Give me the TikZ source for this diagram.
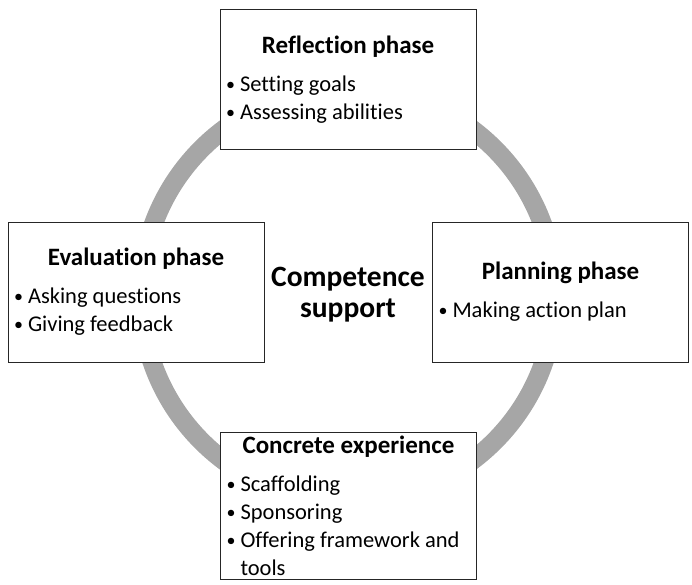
\documentclass[tikz,border=0pt]{standalone}
\usepackage{fontspec}
\setmainfont[Ligatures=NoCommon]{Carlito}
\usetikzlibrary{positioning}

\newcommand{\phasetitle}[1]{{\centering\fontsize{25}{28}\selectfont\bfseries #1\par}\vspace{10pt}}
\newcommand{\bul}[1]{\hangindent=14pt\hangafter=1\noindent
  \makebox[14pt][l]{\raisebox{1.3pt}{\fontsize{18}{18}\selectfont\textbullet}}#1\par}

\begin{document}
\begin{tikzpicture}[x=1pt,y=-1pt]
\tikzstyle{phase}=[draw=black!85, line width=0.8pt, fill=white, align=flush left,
  minimum width=256pt, minimum height=140pt, text width=244pt, inner xsep=6pt,
  font=\fontsize{22.5}{28}\selectfont]
\tikzstyle{ring}=[draw=black!35, line width=19pt]
\useasboundingbox (0,0) rectangle (692,585);
\coordinate (hub) at (348,295);
\draw[ring] (hub) circle[radius=207pt];
\node[font=\fontsize{29.5}{31}\selectfont\bfseries, align=center](C) at (hub) {Competence\\support};
\node[phase](R) at (348,79.5) {\phasetitle{Reflection phase}
  \bul{Setting goals}
  \bul{Assessing abilities}};
\node[phase](E) at (136,292) {\phasetitle{Evaluation phase}
  \bul{Asking questions}
  \bul{Giving feedback}};
\node[phase](P) at (560.5,292) {\phasetitle{Planning phase}
  \bul{Making action plan}};
\node[phase](X) at (348.5,506) {\phasetitle{Concrete experience}
  \bul{Scaffolding}
  \bul{Sponsoring}
  \bul{Offering framework and tools}};
\end{tikzpicture}
\end{document}
